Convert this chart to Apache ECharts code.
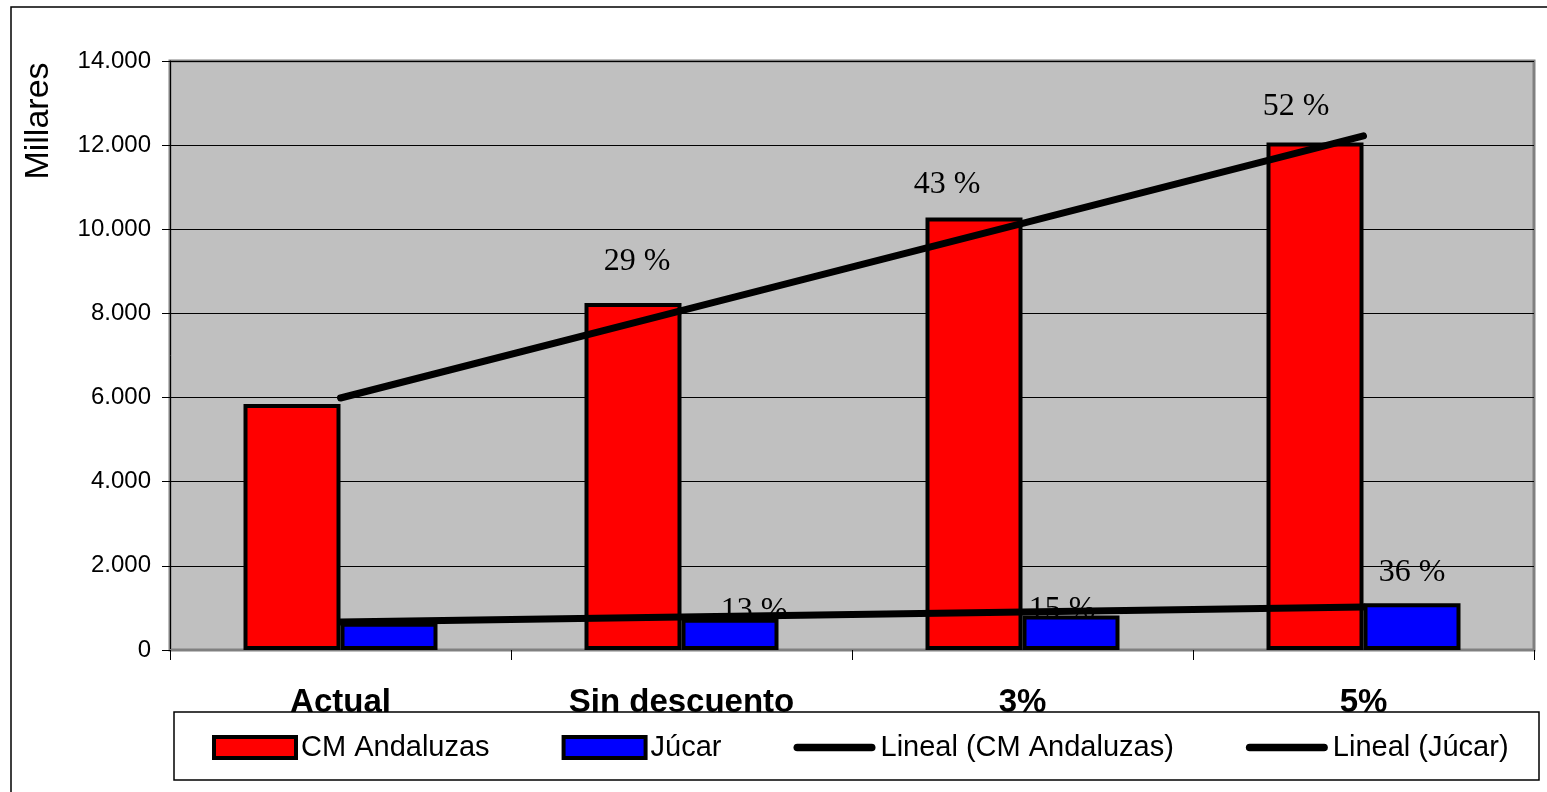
<!DOCTYPE html>
<html>
<head>
<meta charset="utf-8">
<script src="https://cdn.jsdelivr.net/npm/echarts@6/dist/echarts.min.js"></script>
<style>
  html, body { margin: 0; padding: 0; background: #fff; }
  #main { width: 1547px; height: 792px; }
</style>
</head>
<body>
<div id="main"></div>
<script>
// datos (millares)
var categorias = ['Actual', 'Sin descuento', '3%', '5%'];
var cmAndaluzas = [5850, 8250, 10280, 12060];
var jucar = [650, 740, 820, 1110];
var etiquetasCM = ['', '29 %', '43 %', '52 %'];
var etiquetasJucar = ['', '13 %', '15 %', '36 %'];
var tendenciaCM = [5990, 8067, 10143, 12220];
var tendenciaJucar = [665, 783, 902, 1020];

// desplazamiento de las etiquetas movidas a mano en el original (px)
var despCM = [[0, 0], [4, -5], [-27, 3], [-19, 0]];
var despJucar = [[0, 0], [24, 28], [-9, 30], [0, 5]];

var chart = echarts.init(document.getElementById('main'));

function miles(v) {   // 14000 -> 14.000
  return String(v).replace(/\B(?=(\d{3})+(?!\d))/g, '.');
}

function conEtiquetas(valores, textos, desp) {
  return valores.map(function (v, i) {
    return { value: v, label: { formatter: textos[i], offset: desp[i] } };
  });
}

var fuenteEtiqueta = {
  show: true, position: 'top', distance: 20,
  color: '#000', fontFamily: 'Liberation Serif, Times New Roman', fontSize: 32
};

// icono de línea gruesa con extremos redondeados para la leyenda
var iconoLinea = 'path://M4,0 L82,0 A4,4 0 0 1 82,8 L4,8 A4,4 0 0 1 4,0 Z';

var option = {
  animation: false,
  backgroundColor: '#fff',
  grid: {
    left: 170, top: 61, right: 13, bottom: 142,
    show: true,
    backgroundColor: '#C0C0C0',
    borderColor: '#808080',
    borderWidth: 3
  },
  xAxis: {
    type: 'category',
    data: categorias,
    axisLine: { lineStyle: { color: '#808080', width: 2 } },
    axisTick: { show: true, length: 10, lineStyle: { color: '#000', width: 1 } },
    axisLabel: {
      margin: 36,
      color: '#000',
      fontFamily: 'Liberation Sans, Arial',
      fontWeight: 'bold',
      fontSize: 33
    }
  },
  yAxis: {
    type: 'value',
    min: 0, max: 14000, interval: 2000,
    axisLine: { show: true, lineStyle: { color: '#000', width: 1 } },
    axisTick: { show: true, length: 8, lineStyle: { color: '#000' } },
    splitLine: { show: true, lineStyle: { color: '#000', width: 1 } },
    axisLabel: {
      margin: 19,
      color: '#000',
      fontFamily: 'Liberation Sans, Arial',
      fontSize: 24,
      formatter: function (v) { return miles(v); }
    }
  },
  legend: {
    left: 212, top: 733,
    padding: 0,
    itemWidth: 82, itemHeight: 21,
    itemGap: 72,
    z: 60,
    textStyle: { color: '#000', fontFamily: 'Liberation Sans, Arial', fontSize: 29 },
    data: [
      { name: 'CM Andaluzas', icon: 'rect', itemStyle: { borderColor: '#000', borderWidth: 4 } },
      { name: 'Júcar', icon: 'rect', itemStyle: { borderColor: '#000', borderWidth: 4 } },
      { name: 'Lineal (CM Andaluzas)', icon: iconoLinea, itemStyle: { color: '#000', borderWidth: 0 } },
      { name: 'Lineal (Júcar)', icon: iconoLinea, itemStyle: { color: '#000', borderWidth: 0 } }
    ]
  },
  graphic: [
    { // marco exterior
      type: 'rect', z: 1, silent: true,
      shape: { x: 11, y: 7, width: 1700, height: 900 },
      style: { fill: 'none', stroke: '#000', lineWidth: 1.5 }
    },
    { // caja de la leyenda
      type: 'rect', z: 50, silent: true,
      shape: { x: 174, y: 712, width: 1365, height: 68 },
      style: { fill: '#fff', stroke: '#000', lineWidth: 1.5 }
    },
    {
      type: 'text', z: 50, silent: true,
      x: 39, y: 121, rotation: Math.PI / 2,
      style: {
        text: 'Millares', x: 0, y: 0,
        fill: '#000', font: '34px "Liberation Sans", Arial',
        textAlign: 'center', textVerticalAlign: 'middle',
        align: 'center', verticalAlign: 'middle'
      }
    }
  ],
  series: [
    {
      name: 'CM Andaluzas', type: 'bar',
      data: conEtiquetas(cmAndaluzas, etiquetasCM, despCM),
      barWidth: 97, barGap: '0%', z: 2,
      itemStyle: { color: '#FF0000', borderColor: '#000', borderWidth: 4 },
      label: fuenteEtiqueta
    },
    {
      name: 'Júcar', type: 'bar',
      data: conEtiquetas(jucar, etiquetasJucar, despJucar),
      barWidth: 97, z: 2,
      itemStyle: { color: '#0000FF', borderColor: '#000', borderWidth: 4 },
      label: fuenteEtiqueta
    },
    {
      name: 'Lineal (CM Andaluzas)', type: 'line', data: tendenciaCM,
      symbol: 'none', z: 10,
      itemStyle: { color: '#000' },
      lineStyle: { color: '#000', width: 7, cap: 'round' }
    },
    {
      name: 'Lineal (Júcar)', type: 'line', data: tendenciaJucar,
      symbol: 'none', z: 10,
      itemStyle: { color: '#000' },
      lineStyle: { color: '#000', width: 7, cap: 'round' }
    }
  ]
};

chart.setOption(option);
</script>
</body>
</html>
